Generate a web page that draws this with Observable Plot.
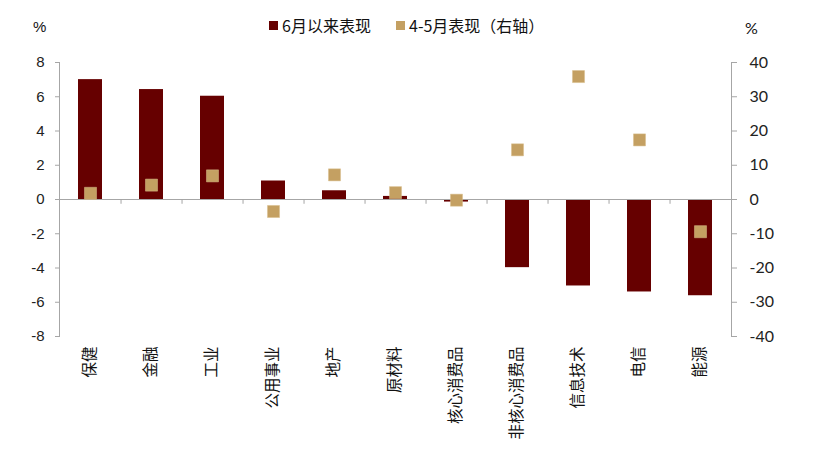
<!DOCTYPE html>
<html><head><meta charset="utf-8">
<script src="https://cdn.jsdelivr.net/npm/d3@7"></script>
<script src="https://cdn.jsdelivr.net/npm/@observablehq/plot@0.6"></script>
<style>
body{margin:0;background:#fff;}
#wrap{position:relative;width:813px;height:464px;}
#top{position:relative;height:50px;font-family:"Noto Sans CJK SC",sans-serif;font-size:16px;color:#111;}
.pct{position:absolute;top:18px;font-family:"Liberation Sans",Arial,sans-serif;font-size:15px;}
.leg{position:absolute;top:13px;display:flex;align-items:center;white-space:nowrap;}
.sw{display:inline-block;width:9px;height:9px;margin-right:4px;}
</style></head>
<body><div id="wrap"><div id="top">
<span class="pct" style="left:33px">%</span>
<span class="pct" style="left:745px;font-family:Lato,sans-serif;font-size:16px">%</span>
<span class="leg" style="left:269px"><span class="sw" style="background:#660000"></span>6月以来表现</span>
<span class="leg" style="left:396px"><span class="sw" style="background:#C4A062"></span>4-5月表现（右轴）</span>
</div><div id="chart"></div></div>
<script>
const categories = ["保健","金融","工业","公用事业","地产","原材料","核心消费品","非核心消费品","信息技术","电信","能源"];
const sinceJune = [7.0, 6.42, 6.03, 1.08, 0.51, 0.18, -0.15, -3.98, -5.05, -5.4, -5.62];
const aprMay = [1.8, 4.2, 6.9, -3.5, 7.2, 2.0, -0.2, 14.5, 35.9, 17.4, -9.4];
const leftTicks = [-8,-6,-4,-2,0,2,4,6,8];
const rightRatio = 5;

const data = categories.map((c,i)=>({cat:c, june:sinceJune[i], am:aprMay[i]}));
const W = 813, mL = 59, mR = 82;
const step = (W - mL - mR) / categories.length;
const gray = "#A6A6A6";

const plot = Plot.plot({
  width: W, height: 414,
  marginTop: 12, marginBottom: 128, marginLeft: mL, marginRight: mR,
  style: {background: "#fff", overflow: "visible"},
  x: {domain: categories, paddingInner: 0.6, paddingOuter: 0.3},
  y: {domain: [-8, 8]},
  marks: [
    Plot.barY(data, {x: "cat", y: "june", fill: "#660000"}),
    Plot.ruleY([0], {stroke: gray, strokeWidth: 1}),
    Plot.ruleX(categories.slice(0, -1), {x: d => d, y1: 0, y2: -0.28, dx: step / 2, stroke: gray}),
    Plot.frame({anchor: "left", stroke: gray}),
    Plot.frame({anchor: "right", stroke: gray}),
    Plot.dot(data, {x: "cat", y: d => d.am / rightRatio, symbol: "square", r: 6.8, fill: "#C4A062", stroke: "#D8BE8C", strokeWidth: 0.5}),
    Plot.axisY({anchor: "left", ticks: leftTicks, tickSize: 4, tickPadding: 11, tickFormat: d => String(d),
      fontSize: 15, fontFamily: "Liberation Sans, Arial, sans-serif", stroke: gray, fill: "#222", label: null}),
    Plot.axisY({anchor: "right", ticks: leftTicks, tickSize: 5, tickPadding: 13, tickFormat: d => String(d * rightRatio),
      fontSize: 16, fontFamily: "Lato, sans-serif", stroke: gray, fill: "#222", label: null}),
    Plot.axisX({anchor: "bottom", tickSize: 0, tickPadding: 10, tickRotate: -90,
      fontSize: 15.5, fontFamily: "Noto Sans CJK SC, sans-serif", fill: "#111", label: null})
  ]
});
document.getElementById("chart").appendChild(plot);
</script></body></html>
